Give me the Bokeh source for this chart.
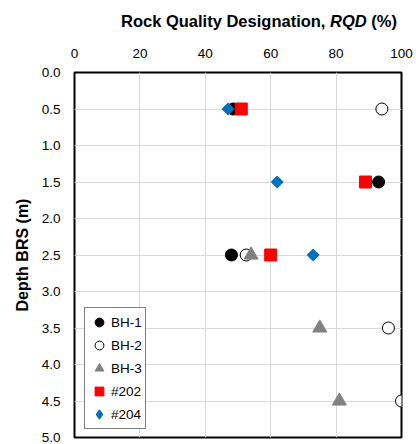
import numpy as np
from bokeh.plotting import figure
from bokeh.layouts import column
from bokeh.models import Div, Legend, LegendItem, FixedTicker, PrintfTickFormatter, Range1d
from bokeh.embed import file_html
from bokeh.resources import INLINE

# Data
bh1_rqd = [48.5, 93, 48]
bh1_depth = [0.5, 1.5, 2.5]
bh2_rqd = [94, 52.5, 96, 100]
bh2_depth = [0.5, 2.5, 3.5, 4.5]
bh3_rqd = [54, 75, 81]
bh3_depth = [2.5, 3.5, 4.5]
s202_rqd = [51, 89, 60]
s202_depth = [0.5, 1.5, 2.5]
s204_rqd = [47, 62, 73]
s204_depth = [0.5, 1.5, 2.5]

x_ticks = [0, 20, 40, 60, 80, 100]
y_ticks = [0.0, 0.5, 1.0, 1.5, 2.0, 2.5, 3.0, 3.5, 4.0, 4.5, 5.0]

FONT = "Liberation Sans"

title = Div(text=('<div style="margin-left:121px;margin-top:10px;white-space:nowrap;'
                  'font-family:\'Liberation Sans\';font-weight:bold;font-size:16.5px;color:black">'
                  'Rock Quality Designation, <i>RQD</i> (%)</div>'),
            width=416, height=40, margin=0)

p = figure(width=416, height=404, output_backend="svg", toolbar_location=None,
           x_range=Range1d(0, 100), y_range=Range1d(5, 0),
           x_axis_location="above",
           min_border_left=74, min_border_right=15, min_border_top=32, min_border_bottom=7)

p.outline_line_color = "black"
p.outline_line_width = 2

p.xaxis.ticker = FixedTicker(ticks=x_ticks)
p.yaxis.ticker = FixedTicker(ticks=y_ticks)
p.yaxis.formatter = PrintfTickFormatter(format="%.1f")
for ax in (p.xaxis[0], p.yaxis[0]):
    ax.axis_line_color = None
    ax.major_tick_line_color = None
    ax.minor_tick_line_color = None
    ax.major_tick_out = 0
    ax.major_tick_in = 0
    ax.minor_tick_out = 0
    ax.major_label_text_font = FONT
    ax.major_label_text_font_size = "13.5px"
    ax.major_label_text_color = "black"
p.xaxis.major_label_standoff = 15
p.yaxis.major_label_standoff = 14
p.yaxis.axis_label = "Depth BRS (m)"
p.yaxis.axis_label_text_font = FONT
p.yaxis.axis_label_text_font_style = "bold"
p.yaxis.axis_label_text_font_size = "16px"
p.yaxis.axis_label_text_color = "black"
p.yaxis.axis_label_standoff = 8

p.xgrid.ticker = FixedTicker(ticks=x_ticks)
p.ygrid.ticker = FixedTicker(ticks=y_ticks)
p.grid.grid_line_color = "#d9d9d9"
p.grid.grid_line_width = 1

r1 = p.scatter(bh1_rqd, bh1_depth, marker="circle", size=12, fill_color="black", line_color="black")
r2 = p.scatter(bh2_rqd, bh2_depth, marker="circle", size=12, fill_color="white", line_color="black", line_width=1)
r3 = p.scatter(bh3_rqd, bh3_depth, marker="triangle", size=14, fill_color="#808080", line_color="#808080")
r4 = p.scatter(s202_rqd, s202_depth, marker="square", size=12, fill_color="#ff0000", line_color="#ff0000")
r5 = p.scatter(s204_rqd, s204_depth, marker="square", angle=np.pi / 4, size=8.5,
               fill_color="#0070c0", line_color="#0070c0")
# legend key only: one undrawn (NaN) point so the legend shows a diamond
r5_key = p.scatter(x=[np.nan], y=[np.nan], marker="diamond", size=12,
                   fill_color="#0070c0", line_color="#0070c0", line_width=1.5)

legend = Legend(items=[LegendItem(label="BH-1", renderers=[r1]),
                       LegendItem(label="BH-2", renderers=[r2]),
                       LegendItem(label="BH-3", renderers=[r3]),
                       LegendItem(label="#202", renderers=[r4]),
                       LegendItem(label="#204", renderers=[r5_key])],
                location=(10, 8))
legend.label_text_font = FONT
legend.label_text_font_size = "13.5px"
legend.label_text_color = "black"
legend.border_line_color = "black"
legend.border_line_width = 1
legend.background_fill_color = "white"
legend.background_fill_alpha = 1
legend.glyph_width = 22
legend.glyph_height = 22
legend.label_height = 22
legend.spacing = 1
legend.padding = 3
legend.margin = 0
legend.label_standoff = 1
p.add_layout(legend, "center")

layout = column(title, p, spacing=0)
open("out.html", "w").write(file_html(layout, INLINE))
